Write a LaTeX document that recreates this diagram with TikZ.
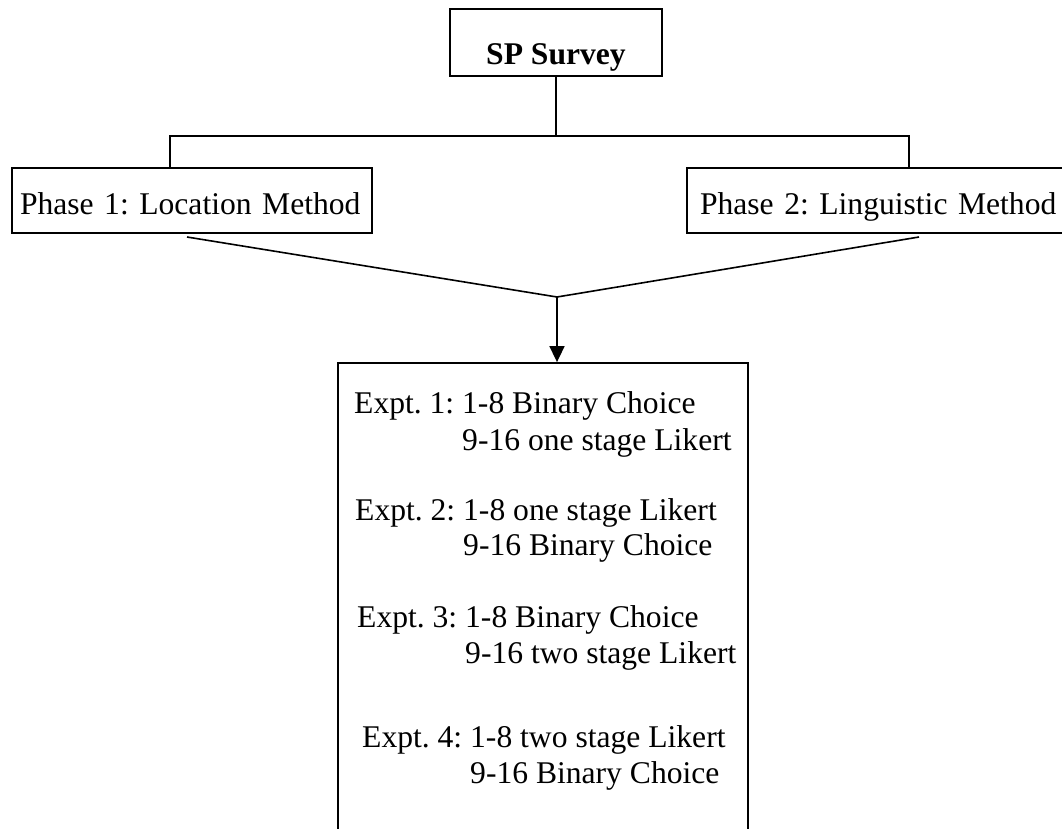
\documentclass[tikz,border=0pt]{standalone}
\usepackage{fontspec}
\setmainfont{Liberation Serif}
\frenchspacing
\usetikzlibrary{arrows.meta}

\begin{document}
\begin{tikzpicture}[x=1pt, y=-1pt,
    box/.style={draw, line width=1.8pt, rectangle, inner sep=0pt, font=\fontsize{31.6pt}{38pt}\selectfont},
    link/.style={line width=1.6pt},
    expt/.style={anchor=base west, inner sep=0pt, font=\fontsize{31.6pt}{38pt}\selectfont}]
    \useasboundingbox (0,0) rectangle (1062,828);

    % Survey box
    \node[box, minimum width=212pt, minimum height=67pt, text height=43pt, text depth=0pt] (survey) at (556,42.5) {\textbf{SP Survey}};

    % Phase boxes
    \node[box, minimum height=65pt, text height=27pt, text depth=0pt, text width=344pt, align=left, inner xsep=8pt] (phase1) at (192,200.5) {Phase 1: Location Method};
    \node[box, minimum height=65pt, text height=27pt, text depth=0pt, text width=380pt, align=left, inner xsep=13pt] (phase2) at (890,200.5) {Phase 2: Linguistic Method};

    % Experiments box (open at the bottom of the page)
    \node[box, minimum width=410pt, minimum height=487pt] (results) at (543,606.5) {};

    % Split bar
    \coordinate (barL) at (170,136);
    \coordinate (barR) at (909,136);
    \draw[link] (survey.south) -- (survey.south |- barL);
    \draw[link] (barL |- phase1.north) -- (barL) -- (barR) -- (barR |- phase2.north);

    % Merge lines and arrow
    \coordinate (from1) at (187,237);
    \coordinate (from2) at (919,237);
    \coordinate (apex) at (557,297);
    \draw[link] (from1) -- (apex) -- (from2);
    \draw[link, -{Triangle[width=15pt,length=16pt]}] (apex) -- (apex |- results.north);

    % Experiment lines
    \foreach \n/\xa/\ya/\xb/\yb/\first/\second in {
        1/354/413/462/450/Expt. 1: 1-8 Binary Choice/9-16 one stage Likert,
        2/355/520/463/555/Expt. 2: 1-8 one stage Likert/9-16 Binary Choice,
        3/357/627/465/663/Expt. 3: 1-8 Binary Choice/9-16 two stage Likert,
        4/362/747/470/783/Expt. 4: 1-8 two stage Likert/9-16 Binary Choice} {
        \node[expt] (e\n a) at (\xa,\ya) {\first};
        \node[expt] (e\n b) at (\xb,\yb) {\second};
    }
\end{tikzpicture}
\end{document}
